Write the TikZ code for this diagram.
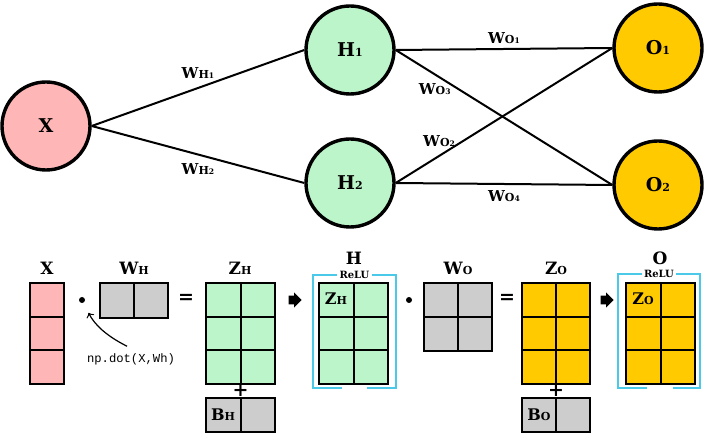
\documentclass[tikz,border=0pt]{standalone}
\usepackage{fontspec}
\setmainfont{DejaVu Serif}
\setmonofont{Liberation Mono}
\usepackage{tikz}
\usetikzlibrary{shapes.arrows}
\definecolor{inpink}{RGB}{255,182,182}
\definecolor{hidgreen}{RGB}{187,245,201}
\definecolor{outgold}{RGB}{255,203,0}
\definecolor{wgray}{RGB}{205,205,205}
\definecolor{relucyan}{RGB}{74,201,232}
\newcommand{\sm}[1]{{\fontsize{5.5}{6}\selectfont #1}}
\newcommand{\tn}[1]{{\fontsize{3.8}{4}\selectfont #1}}

\begin{document}
\begin{tikzpicture}[
            x=0.5pt,   % 1単位 = 元画像の1px
            y=-0.5pt,  % y軸は下向き
            neuron/.style={circle, draw, line width=1.7pt, minimum size=44pt, inner sep=0pt,
                font=\bfseries\fontsize{9.5}{10}\selectfont},
            wlabel/.style={font=\bfseries\fontsize{7.5}{8}\selectfont, inner sep=1pt},
            edge/.style={line width=1pt},
            cell/.style={draw, line width=1pt},
            title/.style={font=\bfseries\fontsize{8.5}{9}\selectfont},
            incell/.style={font=\bfseries\fontsize{8}{8}\selectfont},
            opsym/.style={font=\bfseries\fontsize{9.5}{10}\selectfont},
            opdot/.style={circle, fill=black, inner sep=0pt, minimum size=3pt},
            fatarrow/.style={single arrow, fill=black, inner xsep=0pt, inner ysep=2pt,
                minimum height=6.5pt, single arrow head extend=1.6pt},
            relu/.style={relucyan, line width=1pt},
            relutext/.style={font=\bfseries\fontsize{5}{5}\selectfont, inner sep=1pt}
        ]
            \useasboundingbox (0,0) rectangle (710,437);

            % ニューロン
            \node[neuron, fill=inpink] (x) at (46,126) {X};
            \node[neuron, fill=hidgreen] (h1) at (350,50) {H\sm{1}};
            \node[neuron, fill=hidgreen] (h2) at (350,183) {H\sm{2}};
            \node[neuron, fill=outgold] (o1) at (658,48) {O\sm{1}};
            \node[neuron, fill=outgold] (o2) at (658,185) {O\sm{2}};

            % 重み(入力層 -> 隠れ層)
            \draw[edge] (x.east) -- (h1.west) node[midway, above=3pt, wlabel] {W\sm{H\tn{1}}};
            \draw[edge] (x.east) -- (h2.west) node[midway, below=3pt, wlabel] {W\sm{H\tn{2}}};

            % 重み(隠れ層 -> 出力層)
            \draw[edge] (h1.east) -- (o1.west) node[midway, above=1pt, wlabel] {W\sm{O\tn{1}}};
            \draw[edge] (h1.east) -- (o2.west) node[pos=0.18, below=3pt, wlabel] {W\sm{O\tn{3}}};
            \draw[edge] (h2.east) -- (o1.west) node[pos=0.2, above=3pt, wlabel] {W\sm{O\tn{2}}};
            \draw[edge] (h2.east) -- (o2.west) node[midway, below=2pt, wlabel] {W\sm{O\tn{4}}};

            % 行列のタイトル
            \node[title] (tx) at (47,268) {X};
            \node[title] (twh) at (134,268) {W\sm{H}};
            \node[title] (tzh) at (240,268) {Z\sm{H}};
            \node[title] (th) at (354,258) {H};
            \node[title] (two) at (458,268) {W\sm{O}};
            \node[title] (tzo) at (556,268) {Z\sm{O}};
            \node[title] (to) at (660,258) {O};

            % X (3x1)
            \draw[cell, fill=inpink] (30,283) rectangle (64,384);
            \draw[cell] (30,317) -- (64,317) (30,350) -- (64,350);

            % W_H (1x2)
            \draw[cell, fill=wgray] (100,283) rectangle (168,318);
            \draw[cell] (134,283) -- (134,318);

            % Z_H (3x2)
            \draw[cell, fill=hidgreen] (206,283) rectangle (275,384);
            \draw[cell] (240.5,283) -- (240.5,384) (206,317) -- (275,317) (206,350) -- (275,350);

            % B_H (1x2)
            \draw[cell, fill=wgray] (206,398) rectangle (275,432);
            \draw[cell] (240.5,398) -- (240.5,432);
            \node[incell] (bh) at (223,415) {B\sm{H}};

            % H (3x2)
            \draw[cell, fill=hidgreen] (319,283) rectangle (388,384);
            \draw[cell] (353.5,283) -- (353.5,384) (319,317) -- (388,317) (319,350) -- (388,350);
            \node[incell] (zh) at (336,299) {Z\sm{H}};

            % W_O (2x2)
            \draw[cell, fill=wgray] (424,283) rectangle (492,351);
            \draw[cell] (458,283) -- (458,351) (424,317) -- (492,317);

            % Z_O (3x2)
            \draw[cell, fill=outgold] (522,283) rectangle (590,384);
            \draw[cell] (556,283) -- (556,384) (522,317) -- (590,317) (522,350) -- (590,350);

            % B_O (1x2)
            \draw[cell, fill=wgray] (522,398) rectangle (590,432);
            \draw[cell] (556,398) -- (556,432);
            \node[incell] (bo) at (539,415) {B\sm{O}};

            % O (3x2)
            \draw[cell, fill=outgold] (626,283) rectangle (695,384);
            \draw[cell] (660.5,283) -- (660.5,384) (626,317) -- (695,317) (626,350) -- (695,350);
            \node[incell] (zo) at (643,299) {Z\sm{O}};

            % 演算子
            \node[opdot] (dot1) at (82,300) {};
            \node[opsym] (eq1) at (186,299) {=};
            \node[opsym] (plus1) at (240.5,391) {+};
            \node[fatarrow] (arr1) at (293,300) {};
            \node[opdot] (dot2) at (409,300) {};
            \node[opsym] (eq2) at (507,299) {=};
            \node[opsym] (plus2) at (556,391) {+};
            \node[fatarrow] (arr2) at (605,300) {};

            % ReLU の枠
            \node[relutext] (relu1) at (354.5,275) {ReLU};
            \draw[relu] (relu1.west) -- (313,275) -- (313,388) -- (342,388);
            \draw[relu] (relu1.east) -- (396,275) -- (396,388) -- (367,388);
            \node[relutext] (relu2) at (659,274) {ReLU};
            \draw[relu] (relu2.west) -- (618,274) -- (618,388) -- (647,388);
            \draw[relu] (relu2.east) -- (700,274) -- (700,388) -- (673,388);

            % np.dot の注釈
            \node[font=\ttfamily\fontsize{6.1}{7}\selectfont] (npd) at (131,359) {np.dot(X,Wh)};
            \draw[->, line width=0.6pt, shorten >=5.5pt] ([xshift=-2pt]npd.north) to[bend left=18] (dot1);
        \end{tikzpicture}
\end{document}
